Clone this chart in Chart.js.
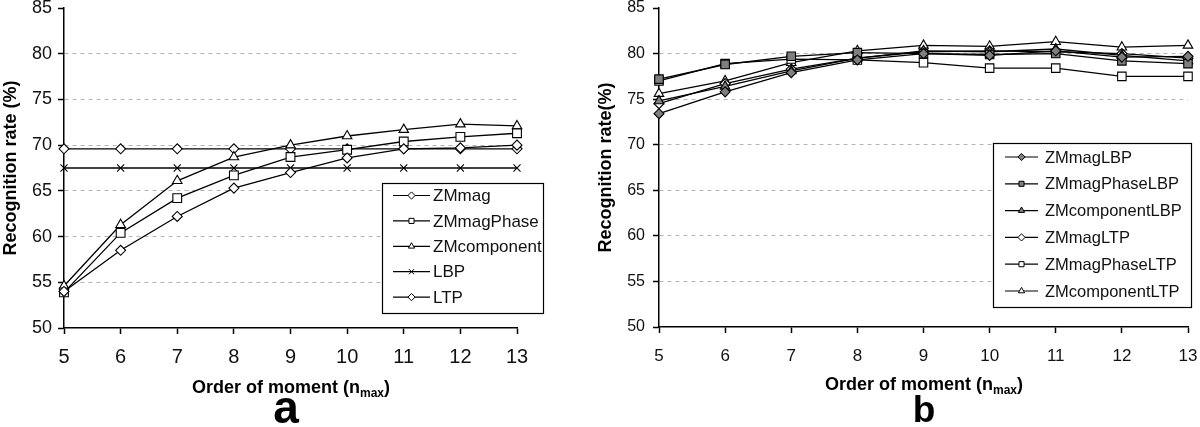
<!DOCTYPE html>
<html>
<head>
<meta charset="utf-8">
<script src="https://cdn.jsdelivr.net/npm/chart.js@4.4.1/dist/chart.umd.min.js"></script>
<style>
  html,body{margin:0;padding:0;background:#fff;}
  #wrap{position:relative;width:1200px;height:427px;overflow:hidden;}
  canvas{position:absolute;top:0;}
</style>
</head>
<body>
<div id="wrap">
  <canvas id="ca" width="590" height="427" style="left:0;width:590px;height:427px"></canvas>
  <canvas id="cb" width="610" height="427" style="left:590px;width:610px;height:427px"></canvas>
</div>
<script>
// ---------- data ----------
const orders = ['5','6','7','8','9','10','11','12','13'];
const yTicks = [50,55,60,65,70,75,80,85];

// panel a
const zmMag       = [54.0, 58.5, 62.2, 65.3, 67.0, 68.6, 69.6, 69.7, 70.0];
const zmMagPhase  = [53.9, 60.4, 64.2, 66.7, 68.7, 69.5, 70.4, 70.9, 71.3];
const zmComponent = [54.6, 61.3, 66.1, 68.7, 70.0, 71.0, 71.7, 72.3, 72.1];
const lbp         = [67.5, 67.5, 67.5, 67.5, 67.5, 67.5, 67.5, 67.5, 67.5];
const ltp         = [69.6, 69.6, 69.6, 69.6, 69.6, 69.6, 69.6, 69.6, 69.6];

// panel b
const zmMagLBP        = [73.4, 75.8, 77.9, 79.3, 80.0, 79.8, 80.3, 79.6, 79.7];
const zmMagPhaseLBP   = [77.2, 78.8, 79.7, 80.1, 80.0, 79.9, 80.0, 79.2, 78.9];
const zmComponentLBP  = [74.8, 76.4, 78.1, 79.5, 80.3, 80.2, 80.5, 79.8, 79.2];
const zmMagLTP        = [74.5, 76.7, 78.3, 79.5, 80.2, 80.3, 80.2, 80.0, 79.5];
const zmMagPhaseLTP   = [77.0, 78.9, 79.4, 79.3, 79.0, 78.4, 78.4, 77.5, 77.5];
const zmComponentLTP  = [75.6, 77.0, 79.0, 80.3, 80.9, 80.8, 81.3, 80.7, 80.9];

// ---------- styles ----------
const FONT = "'Liberation Sans', Arial, sans-serif";
const OPEN = '#ffffff', GREY = '#7f7f7f';

function ds(label, data, style, fill, r) {
  return {
    label, data,
    borderColor: '#000', borderWidth: 1.3,
    pointStyle: style, pointRadius: r, pointHoverRadius: r,
    pointBackgroundColor: fill, pointBorderColor: '#000', pointBorderWidth: 1.1,
    backgroundColor: fill, fill: false, tension: 0, clip: false
  };
}

function makeScales(o) {
  return {
    x: {
      type: 'category', offset: false,
      grid: { display: true, drawOnChartArea: false, drawTicks: true, tickLength: 6, tickColor: '#000', tickWidth: 1.5 },
      border: { display: true, color: '#000', width: 1.5 },
      ticks: { color: '#111', font: { family: FONT, size: o.xFont }, padding: o.xPad, maxRotation: 0, autoSkip: false },
      afterFit(s) { s.height = o.xHeight; s.paddingLeft = 0; s.paddingRight = 0; }
    },
    y: {
      min: 50, max: 85,
      afterBuildTicks(s) { s.ticks = yTicks.map(v => ({ value: v })); },
      grid: {
        color: c => (c.tick && (c.tick.value === 50 || c.tick.value === 85)) ? 'rgba(0,0,0,0)' : '#b4b4b4',
        lineWidth: 1, drawTicks: true, tickLength: 6, tickColor: '#000', tickWidth: 1.5
      },
      border: { display: true, color: '#000', width: 1.5, dash: [4, 4] },
      ticks: { color: '#111', font: { family: FONT, size: o.yFont }, padding: o.yPad },
      afterFit(s) { s.width = o.yWidth; s.paddingTop = 0; s.paddingBottom = 0; }
    }
  };
}

function decorPlugin(o) {
  return {
    id: 'decor',
    afterDraw(chart) {
      const ctx = chart.ctx;
      const ca = chart.chartArea;
      ctx.save();
      // y title
      ctx.fillStyle = '#000';
      ctx.font = `bold ${o.yTitleSize}px ${FONT}`;
      ctx.textAlign = 'center'; ctx.textBaseline = 'middle';
      ctx.translate(o.yTitleX, (ca.top + ca.bottom) / 2);
      ctx.rotate(-Math.PI / 2);
      ctx.fillText(o.yTitle, 0, 0);
      ctx.restore();

      // x title with subscript
      ctx.save();
      ctx.fillStyle = '#000';
      ctx.textBaseline = 'alphabetic'; ctx.textAlign = 'left';
      const main = 'Order of moment (n', sub = 'max', end = ')';
      const fMain = `bold ${o.xTitleSize}px ${FONT}`, fSub = `bold ${Math.round(o.xTitleSize * 0.68)}px ${FONT}`;
      ctx.font = fMain; const w1 = ctx.measureText(main).width, w3 = ctx.measureText(end).width;
      ctx.font = fSub; const w2 = ctx.measureText(sub).width;
      let x0 = o.xTitleCx - (w1 + w2 + w3) / 2;
      ctx.font = fMain; ctx.fillText(main, x0, o.xTitleY);
      ctx.font = fSub; ctx.fillText(sub, x0 + w1, o.xTitleY + 4);
      ctx.font = fMain; ctx.fillText(end, x0 + w1 + w2, o.xTitleY);

      // panel letter
      ctx.font = `bold ${o.letterSize}px ${FONT}`;
      ctx.textAlign = 'center';
      ctx.fillText(o.letter, o.letterX, o.letterY);
      ctx.restore();

      // legend
      ctx.save();
      const L = o.legend;
      ctx.fillStyle = '#fff';
      ctx.fillRect(L.x, L.y, L.w, L.h);
      ctx.strokeStyle = '#000'; ctx.lineWidth = 1.2;
      ctx.strokeRect(L.x + 0.5, L.y + 0.5, L.w, L.h);
      chart.data.datasets.forEach((d, i) => {
        const ry = L.row0 + i * L.rowStep;
        ctx.strokeStyle = '#000'; ctx.lineWidth = 1.2; ctx.setLineDash([]);
        ctx.beginPath(); ctx.moveTo(L.lineX1, ry); ctx.lineTo(L.lineX2, ry); ctx.stroke();
        ctx.fillStyle = d.pointBackgroundColor; ctx.strokeStyle = '#000'; ctx.lineWidth = 1;
        Chart.helpers.drawPoint(ctx, { pointStyle: d.pointStyle, radius: L.markR, rotation: 0, borderWidth: 1 }, (L.lineX1 + L.lineX2) / 2, ry);
        ctx.fillStyle = '#111';
        ctx.font = `${L.font}px ${FONT}`;
        ctx.textAlign = 'left'; ctx.textBaseline = 'middle';
        ctx.fillText(d.label, L.textX, ry + 1);
      });
      ctx.restore();
    }
  };
}

const baseOpts = (scales) => ({
  responsive: false, animation: false, devicePixelRatio: 1,
  events: [],
  plugins: { legend: { display: false }, tooltip: { enabled: false }, title: { display: false } },
  scales
});

// ---------- chart a ----------
new Chart(document.getElementById('ca'), {
  type: 'line',
  data: {
    labels: orders,
    datasets: [
      ds('ZMmag', zmMag, 'rectRot', OPEN, 5),
      ds('ZMmagPhase', zmMagPhase, 'rect', OPEN, 6.2),
      ds('ZMcomponent', zmComponent, 'triangle', OPEN, 5.5),
      ds('LBP', lbp, 'crossRot', OPEN, 5),
      ds('LTP', ltp, 'rectRot', OPEN, 5)
    ]
  },
  options: Object.assign(baseOpts(makeScales({ xFont: 20, xPad: 11, xHeight: 99, yFont: 18, yPad: 6, yWidth: 64 })), {
    layout: { padding: { left: 0, right: 73, top: 8, bottom: 0 } }
  }),
  plugins: [decorPlugin({
    yTitle: 'Recognition rate (%)', yTitleSize: 18, yTitleX: 11,
    xTitleSize: 18, xTitleCx: 291, xTitleY: 393,
    letter: 'a', letterSize: 46, letterX: 286, letterY: 423,
    legend: { x: 382, y: 183, w: 161, h: 130, row0: 195.5, rowStep: 25.4, lineX1: 393, lineX2: 430, textX: 433, markR: 3.6, font: 17 }
  })]
});

// ---------- chart b ----------
new Chart(document.getElementById('cb'), {
  type: 'line',
  data: {
    labels: orders,
    datasets: [
      ds('ZMmagLBP', zmMagLBP, 'rectRot', GREY, 5),
      ds('ZMmagPhaseLBP', zmMagPhaseLBP, 'rect', GREY, 6),
      ds('ZMcomponentLBP', zmComponentLBP, 'triangle', GREY, 5.5),
      ds('ZMmagLTP', zmMagLTP, 'rectRot', OPEN, 5),
      ds('ZMmagPhaseLTP', zmMagPhaseLTP, 'rect', OPEN, 6),
      ds('ZMcomponentLTP', zmComponentLTP, 'triangle', OPEN, 5.5)
    ]
  },
  options: Object.assign(baseOpts(makeScales({ xFont: 17, xPad: 13, xHeight: 100, yFont: 16, yPad: 8, yWidth: 69 })), {
    layout: { padding: { left: 0, right: 12, top: 8, bottom: 0 } }
  }),
  plugins: [decorPlugin({
    yTitle: 'Recognition rate(%)', yTitleSize: 18, yTitleX: 16,
    xTitleSize: 18, xTitleCx: 334, xTitleY: 390,
    letter: 'b', letterSize: 37, letterX: 334, letterY: 422,
    legend: { x: 403, y: 143, w: 198, h: 164, row0: 157, rowStep: 26.8, lineX1: 415, lineX2: 448, textX: 455, markR: 3.6, font: 16.5 }
  })]
});
</script>
</body>
</html>
